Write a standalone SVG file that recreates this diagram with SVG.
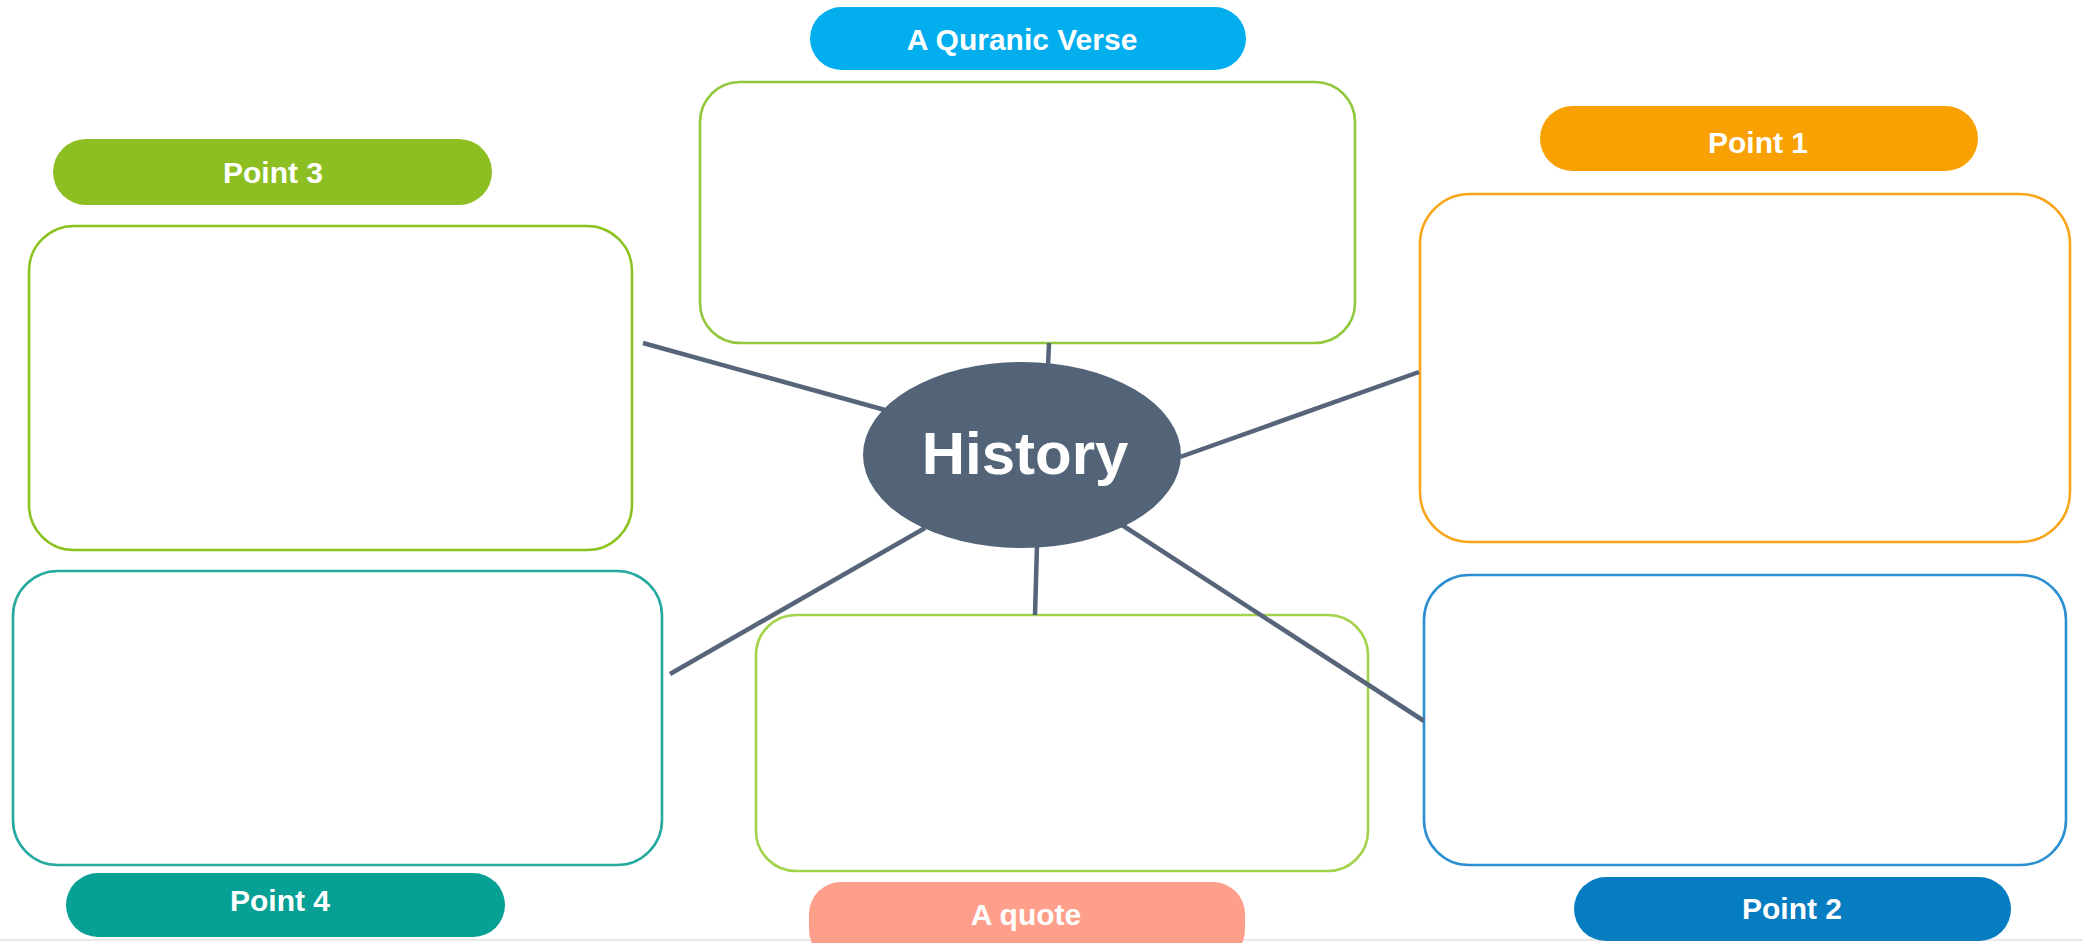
<svg xmlns="http://www.w3.org/2000/svg" width="2083" height="943" viewBox="0 0 2083 943">
<style>
.box{fill:#ffffff;stroke-width:2.6}
.lbl{font-family:"Liberation Sans",Arial,sans-serif;font-weight:bold;font-size:30px;fill:#ffffff;text-anchor:middle}
.conn line{stroke:#56657a;stroke-width:4.5;stroke-linecap:butt}
</style>
<rect x="0" y="0" width="2083" height="943" fill="#ffffff"/>
<line x1="0" y1="940" x2="2083" y2="940" stroke="#e8e8e8" stroke-width="2"/>

<g id="quranic">
<rect class="box" x="700" y="82" width="655" height="261" rx="40" stroke="#92c83e"/>
<rect x="810" y="7" width="436" height="63" rx="31.5" fill="#03aeee"/>
<text class="lbl" x="1022" y="50">A Quranic Verse</text>
</g>

<g id="point3">
<rect class="box" x="29" y="226" width="603" height="324" rx="45" stroke="#8cc21f"/>
<rect x="53" y="139" width="439" height="66" rx="33" fill="#8dbf22"/>
<text class="lbl" x="273" y="183">Point 3</text>
</g>

<g id="point1">
<rect class="box" x="1420" y="194" width="650" height="348" rx="50" stroke="#f9a51a"/>
<rect x="1540" y="106" width="438" height="65" rx="32.5" fill="#f9a003"/>
<text class="lbl" x="1758" y="153">Point 1</text>
</g>

<g id="point4">
<rect class="box" x="13" y="571" width="649" height="294" rx="45" stroke="#26aaa0"/>
<rect x="66" y="873" width="439" height="64" rx="32" fill="#07a095"/>
<text class="lbl" x="280" y="911">Point 4</text>
</g>

<g id="quote">
<rect class="box" x="756" y="615" width="612" height="256" rx="40" stroke="#a3d24b"/>
<rect x="809" y="882" width="436" height="80" rx="32" fill="#fe9f8b"/>
<text class="lbl" x="1026" y="925">A quote</text>
</g>

<g id="point2">
<rect class="box" x="1424" y="575" width="642" height="290" rx="45" stroke="#2b8fd0"/>
<rect x="1574" y="877" width="437" height="64" rx="32" fill="#067cc1"/>
<text class="lbl" x="1792" y="919">Point 2</text>
</g>

<g id="connectors" class="conn">
<line x1="1049" y1="343" x2="1048" y2="366"/>
<line x1="643" y1="343" x2="885" y2="410"/>
<line x1="1180" y1="457" x2="1419" y2="372"/>
<line x1="925" y1="528" x2="670" y2="674"/>
<line x1="1037" y1="545" x2="1035" y2="615"/>
<line x1="1122" y1="525" x2="1424" y2="721"/>
</g>

<g id="history">
<ellipse cx="1022" cy="455" rx="159" ry="93" fill="#536378"/>
<text x="1025" y="474" font-family="'Liberation Sans',Arial,sans-serif" font-weight="bold" font-size="60" fill="#ffffff" text-anchor="middle">History</text>
</g>
</svg>
